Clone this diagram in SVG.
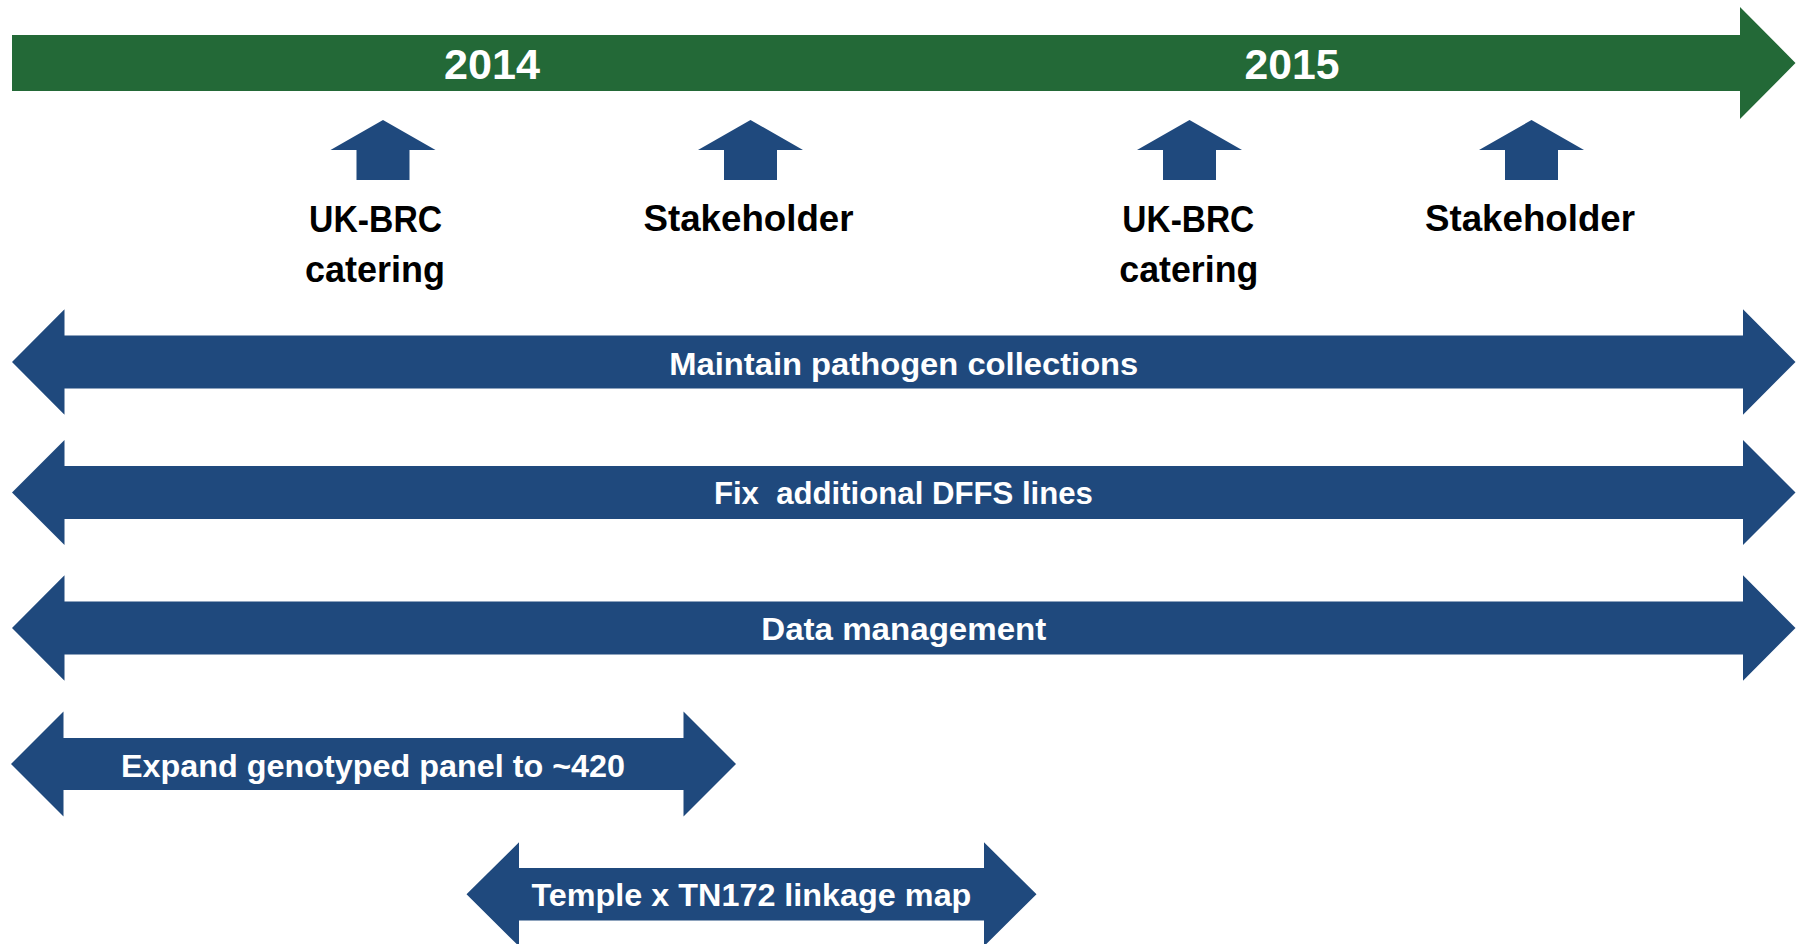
<svg xmlns="http://www.w3.org/2000/svg" xmlns:xlink="http://www.w3.org/1999/xlink" width="1805" height="944" viewBox="0 0 1805 944">
  <style>
    .green { fill: #236937; }
    .blue { fill: #1F497D; }
    .year { font-family: "Liberation Sans", Arial, sans-serif; font-weight: bold; font-size: 43px; fill: #FFFFFF; text-anchor: middle; }
    .label { font-family: "Liberation Sans", Arial, sans-serif; font-weight: bold; font-size: 37px; fill: #000000; text-anchor: middle; }
    .bar { font-family: "Liberation Sans", Arial, sans-serif; font-weight: bold; font-size: 32px; fill: #FFFFFF; text-anchor: middle; white-space: pre; }
  </style>
  <defs>
    <path id="uparrow" d="M0,120 L52.5,150 L26.5,150 L26.5,180 L-26.5,180 L-26.5,150 L-52.5,150 Z"/>
  </defs>
  <rect x="0" y="0" width="1805" height="944" fill="#FFFFFF"/>

  <g id="timeline">
    <path class="green" d="M12,35 L1740,35 L1740,7 L1795.5,63 L1740,119 L1740,91 L12,91 Z"/>
    <text class="year" x="492" y="79" textLength="96" lengthAdjust="spacingAndGlyphs">2014</text>
    <text class="year" x="1292" y="79" textLength="95" lengthAdjust="spacingAndGlyphs">2015</text>
  </g>

  <g id="milestone-ukbrc-2014">
    <use xlink:href="#uparrow" href="#uparrow" x="383" y="0" class="blue"/>
    <text class="label" x="375.6" y="231.5" textLength="133" lengthAdjust="spacingAndGlyphs">UK-BRC</text>
    <text class="label" x="375" y="281.7" textLength="140" lengthAdjust="spacingAndGlyphs">catering</text>
  </g>

  <g id="milestone-stakeholder-2014">
    <use xlink:href="#uparrow" href="#uparrow" x="750.5" y="0" class="blue"/>
    <text class="label" x="748.5" y="231" textLength="210" lengthAdjust="spacingAndGlyphs">Stakeholder</text>
  </g>

  <g id="milestone-ukbrc-2015">
    <use xlink:href="#uparrow" href="#uparrow" x="1189.5" y="0" class="blue"/>
    <text class="label" x="1188.3" y="231.5" textLength="132" lengthAdjust="spacingAndGlyphs">UK-BRC</text>
    <text class="label" x="1188.8" y="281.7" textLength="139" lengthAdjust="spacingAndGlyphs">catering</text>
  </g>

  <g id="milestone-stakeholder-2015">
    <use xlink:href="#uparrow" href="#uparrow" x="1531.5" y="0" class="blue"/>
    <text class="label" x="1530" y="231" textLength="210" lengthAdjust="spacingAndGlyphs">Stakeholder</text>
  </g>

  <g id="task-maintain">
    <path class="blue" d="M12,362 L64.5,309.3 L64.5,335.5 L1743,335.5 L1743,309.3 L1795.5,362 L1743,414.7 L1743,388.5 L64.5,388.5 L64.5,414.7 Z"/>
    <text class="bar" x="903.8" y="375" textLength="469" lengthAdjust="spacingAndGlyphs">Maintain pathogen collections</text>
  </g>

  <g id="task-fix">
    <path class="blue" d="M12,492.5 L64.5,440 L64.5,466 L1743,466 L1743,440 L1795.5,492.5 L1743,545 L1743,519 L64.5,519 L64.5,545 Z"/>
    <text class="bar" x="903.4" y="504.3" textLength="379" lengthAdjust="spacingAndGlyphs">Fix  additional DFFS lines</text>
  </g>

  <g id="task-data">
    <path class="blue" d="M12,628 L64.5,575.3 L64.5,601.5 L1743,601.5 L1743,575.3 L1795.5,628 L1743,680.7 L1743,654.5 L64.5,654.5 L64.5,680.7 Z"/>
    <text class="bar" x="903.8" y="640" textLength="285" lengthAdjust="spacingAndGlyphs">Data management</text>
  </g>

  <g id="task-expand">
    <path class="blue" d="M11,764 L63.5,711.5 L63.5,738 L683.5,738 L683.5,711.5 L736,764 L683.5,816.5 L683.5,790 L63.5,790 L63.5,816.5 Z"/>
    <text class="bar" x="373" y="777.3" textLength="504" lengthAdjust="spacingAndGlyphs">Expand genotyped panel to ~420</text>
  </g>

  <g id="task-temple">
    <path class="blue" d="M466.5,894.3 L519,842.3 L519,868 L984,868 L984,842.3 L1036.5,894.3 L984,946.3 L984,920.6 L519,920.6 L519,946.3 Z"/>
    <text class="bar" x="751.4" y="906" textLength="440" lengthAdjust="spacingAndGlyphs">Temple x TN172 linkage map</text>
  </g>

  <g id="connectors"></g>
</svg>
